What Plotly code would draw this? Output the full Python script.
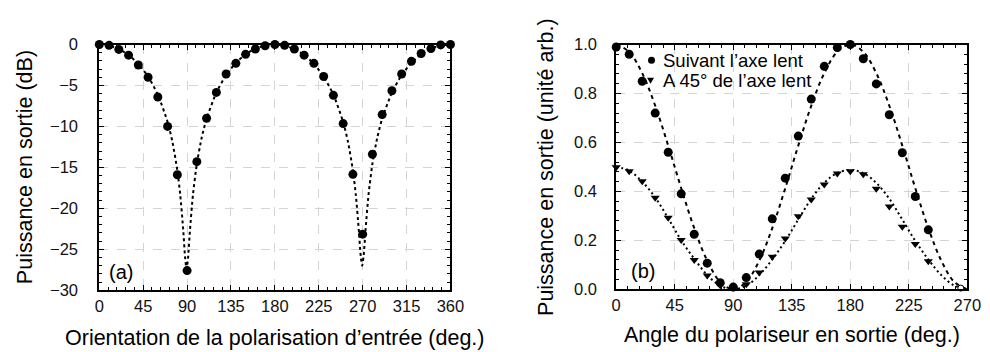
import plotly.graph_objects as go

# ---------------- Panel (a) data ----------------
a_angle = list(range(0, 361, 10))
a_power_db = [0, -0.1, -0.6, -1.3, -2.5, -4.0, -6.4, -10.0, -15.9, -27.6,
              -14.3, -9.0, -5.85, -3.6, -2.3, -1.2, -0.55, -0.15, 0,
              -0.1, -0.55, -1.3, -2.3, -3.9, -6.2, -9.65, -15.85, -23.15,
              -13.4, -8.55, -5.65, -3.6, -2.05, -1.1, -0.5, -0.05, 0]

a_fit_angle = [0, 10, 20, 30, 40, 50, 60, 70, 75, 80, 83, 86, 88, 89.5, 91, 93, 96,
               100, 105, 110, 120, 130, 140, 150, 160, 170, 180, 190, 200, 210, 220,
               230, 240, 250, 255, 260, 263, 266, 268, 269.5, 271, 273, 276, 280, 285,
               290, 300, 310, 320, 330, 340, 350, 360]
a_fit_db = [0, -0.14, -0.56, -1.28, -2.37, -3.91, -6.12, -9.46, -11.9, -15.37, -18.35,
            -22.58, -26.05, -27.45, -26.05, -22.58, -18.35, -14.56, -11.35, -9.05,
            -5.86, -3.73, -2.24, -1.2, -0.5, -0.11, 0, -0.14, -0.56, -1.28, -2.37,
            -3.91, -6.12, -9.46, -11.9, -15.37, -18.35, -22.58, -25.8, -27.0, -25.8,
            -22.58, -18.35, -14.56, -11.35, -9.05, -5.86, -3.73, -2.24, -1.2, -0.5,
            -0.11, 0]

a_xticks = [0, 45, 90, 135, 180, 225, 270, 315, 360]
a_yticks = [0, -5, -10, -15, -20, -25, -30]

# ---------------- Panel (b) data ----------------
b_angle = list(range(0, 241, 10))
b_slow = [0.99, 0.96, 0.85, 0.72, 0.56, 0.39, 0.225, 0.107, 0.027, 0.009, 0.048,
          0.144, 0.288, 0.454, 0.626, 0.777, 0.911, 0.988, 1.0, 0.942, 0.839,
          0.713, 0.558, 0.379, 0.243]
b_45 = [0.499, 0.482, 0.441, 0.374, 0.292, 0.202, 0.12, 0.056, 0.017, 0.006, 0.021,
        0.069, 0.133, 0.208, 0.299, 0.367, 0.428, 0.473, 0.482, 0.47, 0.411,
        0.338, 0.256, 0.185, 0.115]
b_extra_angle = [265]
b_extra = [0.005]

b_fit_angle = list(range(0, 271, 10))
b_fit_slow = [1.0, 0.97, 0.883, 0.75, 0.587, 0.413, 0.25, 0.117, 0.03, 0.0, 0.03,
              0.117, 0.25, 0.413, 0.587, 0.75, 0.883, 0.97, 1.0, 0.97, 0.883, 0.75,
              0.587, 0.413, 0.25, 0.117, 0.03, 0.0]
b_fit_45 = [0.5, 0.485, 0.44, 0.375, 0.29, 0.2, 0.125, 0.058, 0.015, 0.0, 0.015,
            0.058, 0.122, 0.198, 0.285, 0.37, 0.435, 0.475, 0.487, 0.475, 0.435,
            0.37, 0.285, 0.198, 0.122, 0.058, 0.015, 0.0]

b_xticks = [0, 45, 90, 135, 180, 225, 270]
b_yticks = [0.0, 0.2, 0.4, 0.6, 0.8, 1.0]

legend_names = ["Suivant l’axe lent", "A 45° de l’axe lent"]

FONT = "Liberation Sans, Arial, Helvetica, sans-serif"
W, H = 990, 352


def px(x):
    return x / W


def py(y):
    return 1 - y / H


fig = go.Figure()

# panel (a)
fig.add_trace(go.Scatter(x=a_fit_angle, y=a_fit_db, mode="lines", xaxis="x", yaxis="y",
                         line=dict(color="black", width=2, dash="3px,3px", shape="spline",
                                   smoothing=0.6),
                         showlegend=False, hoverinfo="skip"))
fig.add_trace(go.Scatter(x=a_angle, y=a_power_db, mode="markers", xaxis="x", yaxis="y",
                         marker=dict(color="black", size=9, symbol="circle"),
                         cliponaxis=False, showlegend=False))

# panel (b)
fig.add_trace(go.Scatter(x=b_fit_angle, y=b_fit_slow, mode="lines", xaxis="x2", yaxis="y2",
                         line=dict(color="black", width=2, dash="4px,4px", shape="spline"),
                         showlegend=False, hoverinfo="skip"))
fig.add_trace(go.Scatter(x=b_fit_angle, y=b_fit_45, mode="lines", xaxis="x2", yaxis="y2",
                         line=dict(color="black", width=2, dash="2px,3px", shape="spline"),
                         showlegend=False, hoverinfo="skip"))
fig.add_trace(go.Scatter(x=b_angle, y=b_slow, mode="markers", xaxis="x2", yaxis="y2",
                         name=legend_names[0],
                         marker=dict(color="black", size=9, symbol="circle"),
                         cliponaxis=False, showlegend=False))
fig.add_trace(go.Scatter(x=b_angle, y=b_45, mode="markers", xaxis="x2", yaxis="y2",
                         name=legend_names[1],
                         marker=dict(color="black", size=8, symbol="triangle-down"),
                         cliponaxis=False, showlegend=False))
fig.add_trace(go.Scatter(x=b_extra_angle, y=b_extra, mode="markers", xaxis="x2", yaxis="y2",
                         marker=dict(color="white", size=6, symbol="circle",
                                     line=dict(color="black", width=1)),
                         cliponaxis=False, showlegend=False))

axis_common = dict(
    showline=True, linecolor="black", linewidth=2, mirror="allticks",
    ticks="inside", ticklen=5, tickwidth=1, tickcolor="black",
    showgrid=True, gridcolor="#d4d4d4", gridwidth=1, griddash="dash",
    zeroline=False,
    tickfont=dict(family=FONT, size=16.5, color="#111111"),
    minor=dict(ticks="inside", ticklen=3, tickwidth=1, tickcolor="black", showgrid=False),
)

fig.update_layout(
    width=W, height=H,
    margin=dict(l=0, r=0, t=0, b=0),
    paper_bgcolor="white", plot_bgcolor="white",
    showlegend=False,
    font=dict(family=FONT, color="black"),
    xaxis=dict(domain=[px(88), px(446)], range=[0, 360], tickmode="array",
               tickvals=a_xticks, anchor="y", **{**axis_common,
               "minor": dict(axis_common["minor"], dtick=9, tick0=0)}),
    yaxis=dict(domain=[py(288), py(29)], range=[-30, 0], tickmode="array",
               tickvals=a_yticks, anchor="x", ticklabelstandoff=16, **{**axis_common,
               "minor": dict(axis_common["minor"], dtick=1, tick0=0)}),
    xaxis2=dict(domain=[px(615), px(973)], range=[0, 270], tickmode="array",
                tickvals=b_xticks, anchor="y2", **{**axis_common,
                "minor": dict(axis_common["minor"], dtick=9, tick0=0)}),
    yaxis2=dict(domain=[py(287), py(29)], range=[0, 1], tickmode="array",
                tickvals=b_yticks, tickformat=".1f", anchor="x2", ticklabelstandoff=14,
                **{**axis_common,
                "minor": dict(axis_common["minor"], dtick=0.04, tick0=0)}),
)

TITLE_SIZE = 21.5
annotations = [
    dict(text="Orientation de la polarisation d’entrée (deg.)", x=px(267), y=py(338),
         font=dict(size=TITLE_SIZE)),
    dict(text="Angle du polariseur en sortie (deg.)", x=px(794), y=py(335),
         font=dict(size=TITLE_SIZE)),
    dict(text="Puissance en sortie (dB)", x=px(13), y=py(158.5), textangle=-90,
         font=dict(size=TITLE_SIZE)),
    dict(text="Puissance en sortie (unité arb.)", x=px(544), y=py(158.5), textangle=-90,
         font=dict(size=TITLE_SIZE)),
    dict(text="(a)", x=px(110.5), y=py(269), font=dict(size=20)),
    dict(text="(b)", x=px(642.5), y=py(268), font=dict(size=20)),
    dict(text=legend_names[0], x=px(661), y=py(45.7), xanchor="left",
         font=dict(size=18.5)),
    dict(text=legend_names[1], x=px(661), y=py(66.7), xanchor="left",
         font=dict(size=18.5)),
]
for a in annotations:
    a.setdefault("xanchor", "center")
    a.update(xref="paper", yref="paper", showarrow=False, yanchor="middle")
    a["font"] = dict(family=FONT, color="black", **a["font"])
fig.update_layout(annotations=annotations)

# legend symbols (layout decorations)
fig.add_shape(type="circle", xref="paper", yref="paper", xsizemode="pixel",
              ysizemode="pixel", xanchor=px(651), yanchor=py(45.7),
              x0=-3.5, x1=3.5, y0=-3.5, y1=3.5,
              fillcolor="black", line=dict(color="black", width=0))
fig.add_shape(type="path", xref="paper", yref="paper", xsizemode="pixel",
              ysizemode="pixel", xanchor=px(650), yanchor=py(66.7),
              path="M -3.5 2.5 L 3.5 2.5 L 0 -3.5 Z",
              fillcolor="black", line=dict(color="black", width=0))

fig.write_html("out.html")
